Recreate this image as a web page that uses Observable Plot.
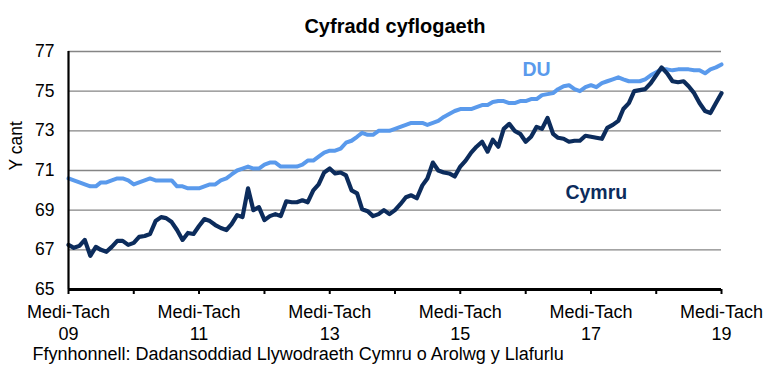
<!DOCTYPE html>
<html>
<head>
<meta charset="utf-8">
<script src="https://cdn.jsdelivr.net/npm/d3@7"></script>
<script src="https://cdn.jsdelivr.net/npm/@observablehq/plot@0.6"></script>
<style>
  html, body { margin: 0; padding: 0; background: #fff; }
  svg { display: block; }
</style>
</head>
<body>
<div id="chart"></div>
<script>
// Monthly rolling three-month periods, Medi-Tach 2009 (Sep-Nov) to Medi-Tach 2019
const startYear = 2009;
const startMonth = 8; // September (0-based)

const seriesNames = ["DU", "Cymru"];

const du = [
  70.6, 70.5, 70.4, 70.3, 70.2, 70.2, 70.4, 70.4, 70.5, 70.6,
  70.6, 70.5, 70.3, 70.4, 70.5, 70.6, 70.5, 70.5, 70.5, 70.5,
  70.2, 70.2, 70.1, 70.1, 70.1, 70.2, 70.3, 70.3, 70.5, 70.6,
  70.8, 71.0, 71.1, 71.2, 71.1, 71.1, 71.3, 71.4, 71.4, 71.2,
  71.2, 71.2, 71.2, 71.3, 71.5, 71.5, 71.7, 71.9, 72.0, 72.0,
  72.1, 72.4, 72.5, 72.7, 72.9, 72.8, 72.8, 73.0, 73.0, 73.0,
  73.1, 73.2, 73.3, 73.4, 73.4, 73.4, 73.3, 73.4, 73.5, 73.7,
  73.85, 74.0, 74.1, 74.1, 74.1, 74.2, 74.3, 74.3, 74.45, 74.5,
  74.5, 74.4, 74.4, 74.5, 74.5, 74.6, 74.6, 74.8, 74.85, 74.9,
  75.1, 75.25, 75.3, 75.1, 75.0, 75.2, 75.3, 75.2, 75.4, 75.5,
  75.6, 75.7, 75.6, 75.5, 75.5, 75.5, 75.6, 75.8, 75.95, 76.1,
  76.1, 76.05, 76.1, 76.1, 76.1, 76.05, 76.05, 75.9, 76.1, 76.2,
  76.35
];

const cymru = [
  67.25, 67.1, 67.2, 67.5, 66.7, 67.15, 67.0, 66.9, 67.15, 67.45,
  67.45, 67.25, 67.35, 67.65, 67.7, 67.8, 68.45, 68.65, 68.6, 68.4,
  68.0, 67.5, 67.85, 67.8, 68.2, 68.55, 68.45, 68.25, 68.1, 68.0,
  68.3, 68.75, 68.65, 70.1, 69.0, 69.15, 68.5, 68.7, 68.8, 68.7,
  69.45, 69.4, 69.4, 69.5, 69.4, 70.0, 70.3, 70.9, 71.1, 70.85,
  70.9, 70.75, 70.0, 69.85, 69.05, 68.95, 68.7, 68.8, 69.0, 68.8,
  69.0, 69.3, 69.65, 69.75, 69.6, 70.25, 70.6, 71.4, 71.0, 70.9,
  70.85, 70.7, 71.2, 71.5, 71.9, 72.2, 72.45, 71.95, 72.55, 72.2,
  73.1, 73.35, 73.0, 72.85, 72.45, 72.7, 73.2, 73.1, 73.65, 72.85,
  72.65, 72.6, 72.45, 72.5, 72.5, 72.75, 72.7, 72.65, 72.6, 73.15,
  73.3, 73.5, 74.1, 74.4, 75.0, 75.05, 75.1, 75.4, 75.8, 76.2,
  75.9, 75.5, 75.45, 75.5, 75.25, 74.9, 74.4, 74.0, 73.9, 74.4,
  74.9
];

const yTicks = [65, 67, 69, 71, 73, 75, 77];
const xTickLabels = ["Medi-Tach\n09", "Medi-Tach\n11", "Medi-Tach\n13", "Medi-Tach\n15", "Medi-Tach\n17", "Medi-Tach\n19"];
const title = "Cyfradd cyflogaeth";
const yLabel = "Y cant";
const source = "Ffynhonnell: Dadansoddiad Llywodraeth Cymru o Arolwg y Llafurlu";

const colors = {DU: "#5a9aec", Cymru: "#0c2c5c"};

const monthDate = i => new Date(Date.UTC(startYear, startMonth + i, 1));
const rows = [];
du.forEach((v, i) => rows.push({date: monthDate(i), value: v, series: "DU"}));
cymru.forEach((v, i) => rows.push({date: monthDate(i), value: v, series: "Cymru"}));

const nMonths = du.length - 1;
const yearTicks = d3.range(0, nMonths + 1, 12).map(monthDate);
const labelMap = new Map(xTickLabels.map((l, k) => [monthDate(k * 24).getTime(), l]));

const font = "Liberation Sans, Arial, Helvetica, sans-serif";

const chart = Plot.plot({
  width: 778,
  height: 389,
  marginLeft: 68,
  marginRight: 57,
  marginTop: 51,
  marginBottom: 100,
  style: {fontFamily: font, background: "#fff", color: "#000"},
  x: {type: "utc", domain: [monthDate(0), monthDate(nMonths)]},
  y: {domain: [65, 77]},
  marks: [
    Plot.gridY(yTicks.slice(1), {stroke: "#858585", strokeOpacity: 1, strokeWidth: 1.3}),
    Plot.axisY(yTicks, {tickSize: 0, tickPadding: 14, fontSize: 17.5, label: null, tickFormat: d => String(d)}),
    Plot.text([yLabel], {frameAnchor: "left", dx: -52, rotate: -90, fontSize: 17.5, text: d => d}),
    Plot.axisX(yearTicks, {
      tickSize: 5, strokeWidth: 2, tickPadding: 9, fontSize: 18, label: null,
      tickFormat: d => labelMap.get(d.getTime()) || "", lineHeight: 1.17
    }),
    Plot.line(rows.filter(d => d.series === "DU"), {x: "date", y: "value", stroke: colors.DU, strokeWidth: 4, strokeLinejoin: "round"}),
    Plot.line(rows.filter(d => d.series === "Cymru"), {x: "date", y: "value", stroke: colors.Cymru, strokeWidth: 4.2, strokeLinejoin: "round"}),
    Plot.ruleX([monthDate(0)], {stroke: "#000", strokeWidth: 2.2}),
    Plot.ruleY([65], {stroke: "#000", strokeWidth: 3}),
    Plot.text([seriesNames[0]], {x: () => monthDate(86), y: () => 76.08, text: d => d, fill: colors.DU, fontSize: 19.5, fontWeight: "bold"}),
    Plot.text([seriesNames[1]], {x: () => monthDate(97), y: () => 69.9, text: d => d, fill: colors.Cymru, fontSize: 19.5, fontWeight: "bold"}),
    Plot.text([title], {frameAnchor: "top", dy: -33, text: d => d, fontSize: 20, fontWeight: "bold", textAnchor: "middle"}),
    Plot.text([source], {frameAnchor: "bottom-left", dx: -36, dy: 70, text: d => d, fontSize: 18, textAnchor: "start"})
  ]
});
document.getElementById("chart").appendChild(chart);
</script>
</body>
</html>
